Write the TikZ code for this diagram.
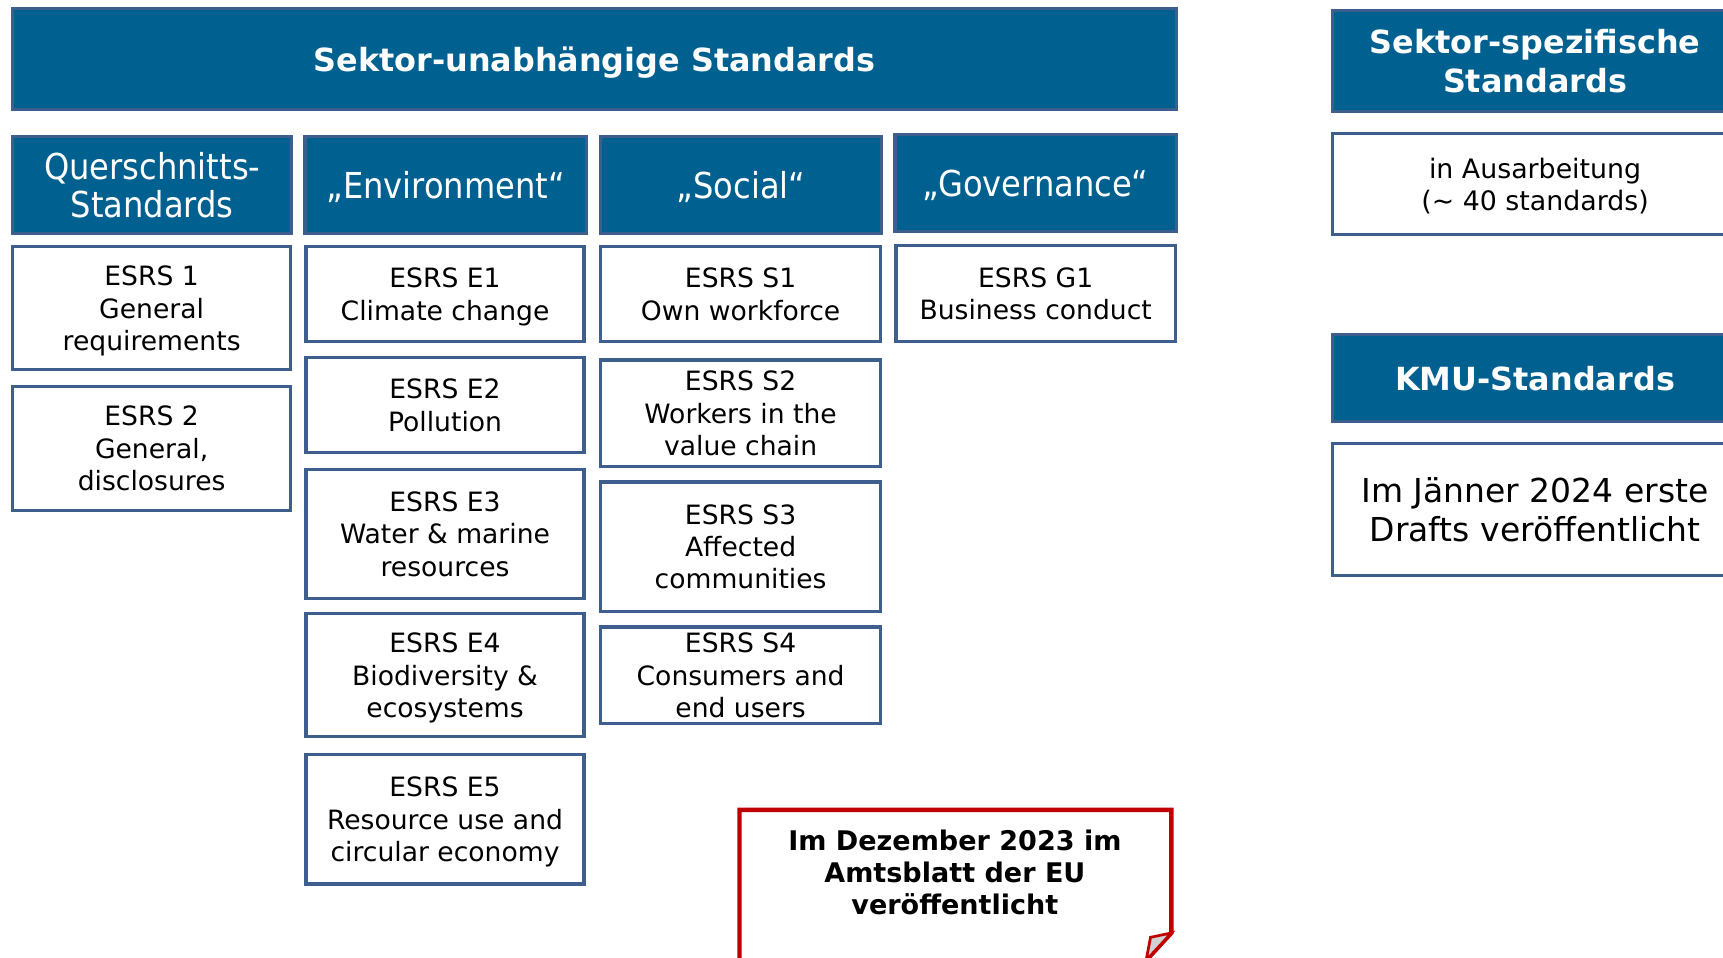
\documentclass[tikz,border=0pt]{standalone}
\usepackage{fontspec}
\setmainfont{DejaVu Sans}
\newfontfamily\hdfont{DejaVu Sans Condensed}
\definecolor{esrsblue}{HTML}{00608F}
\definecolor{esrsedge}{HTML}{3E5E8E}
\definecolor{esrsred}{HTML}{C00000}
\begin{document}
\begin{tikzpicture}[x=1pt,y=-1pt,
  base/.style={rectangle, draw=esrsedge, line width=3pt, inner sep=0pt, align=center, anchor=center, text depth=0pt},
  head/.style={base, fill=esrsblue, text=white},
  banner/.style={head, font=\bfseries\fontsize{29}{35}\selectfont},
  pillar/.style={head, font=\hdfont\fontsize{32.5}{35}\selectfont},
  cell/.style={base, fill=white, text=black, font=\fontsize{24.2}{29.5}\selectfont},
  note/.style={base, fill=white, text=black, font=\fontsize{24.4}{29}\selectfont}
]
\useasboundingbox (0,0) rectangle (1568,871);
\clip (0,0) rectangle (1568,871);

% top banner and right-hand column
\node[banner, minimum width=1059pt, minimum height=92pt] (sekun) at (541,53.5) {Sektor-unabhängige Standards};
\node[banner, minimum width=369pt, minimum height=92pt] (sekspez) at (1397,55.5) {Sektor-spezifische\\Standards};
\node[note, minimum width=369pt, minimum height=92pt] (ausarb) at (1397,167.5) {in Ausarbeitung\\(\textasciitilde{} 40 standards)};
\node[banner, minimum width=369pt, minimum height=79pt] (kmu) at (1397,344) {KMU-Standards};
\node[note, font=\fontsize{30}{36}\selectfont, minimum width=369pt, minimum height=120pt] (kmunote) at (1397,463.5) {Im Jänner 2024 erste\\Drafts veröffentlicht};

% pillar headers
\node[pillar, minimum width=254pt, minimum height=88pt] (quer) at (138.5,168.5) {Querschnitts-\\Standards};
\node[pillar, minimum width=256pt, minimum height=88pt] (env) at (405.5,168.5) {„Environment“};
\node[pillar, minimum width=256pt, minimum height=88pt] (soc) at (674.5,168.5) {„Social“};
\node[pillar, minimum width=256pt, minimum height=88pt] (gov) at (942.5,166.5) {„Governance“};

% cross-cutting standards
\node[cell, minimum width=253pt, minimum height=112pt] (esrs1) at (138,280.5) {ESRS 1\\General\\requirements};
\node[cell, minimum width=253pt, minimum height=113pt] (esrs2) at (138,408) {ESRS 2\\General,\\disclosures};

% environment
\node[cell, minimum width=253pt, minimum height=86pt] (e1) at (405,267.5) {ESRS E1\\Climate change};
\node[cell, minimum width=253pt, minimum height=86pt] (e2) at (405,368.5) {ESRS E2\\Pollution};
\node[cell, minimum width=253pt, minimum height=117pt] (e3) at (405,486) {ESRS E3\\Water \& marine\\resources};
\node[cell, minimum width=253pt, minimum height=112pt] (e4) at (405,614.5) {ESRS E4\\Biodiversity \&\\ecosystems};
\node[cell, minimum width=253pt, minimum height=118pt] (e5) at (405,745.5) {ESRS E5\\Resource use and\\circular economy};

% social
\node[cell, minimum width=255pt, minimum height=86pt] (s1) at (674,267.5) {ESRS S1\\Own workforce};
\node[cell, minimum width=255pt, minimum height=97pt] (s2) at (674,376) {ESRS S2\\Workers in the\\value chain};
\node[cell, minimum width=255pt, minimum height=118pt] (s3) at (674,497.5) {ESRS S3\\Affected\\communities};
\node[cell, minimum width=255pt, minimum height=88pt] (s4) at (674,614.5) {ESRS S4\\Consumers and\\end users};

% governance
\node[cell, minimum width=254pt, minimum height=87pt] (g1) at (942.5,267) {ESRS G1\\Business conduct};

% publication note with folded corner
\draw[esrsred, line width=4pt, fill=white, line join=miter]
  (673,737) -- (1066,737) -- (1066,849) -- (1043,874) -- (673,874) -- cycle;
\draw[esrsred, line width=2.5pt, fill=black!18, line join=miter]
  (1066,849) -- (1047,853) -- (1043,874) -- cycle;
\node[align=center, inner sep=0pt, font=\bfseries\fontsize{24.6}{29}\selectfont] (eu) at (869,794)
  {Im Dezember 2023 im\\Amtsblatt der EU\\veröffentlicht};
\end{tikzpicture}
\end{document}
